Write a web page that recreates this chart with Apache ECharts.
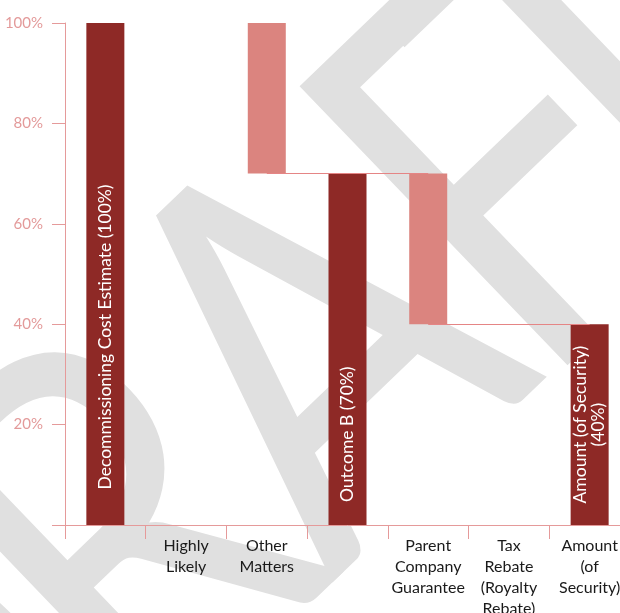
<!DOCTYPE html>
<html>
<head>
<meta charset="utf-8">
<script src="https://cdn.jsdelivr.net/npm/echarts@6/dist/echarts.min.js"></script>
<style>
  html, body { margin: 0; padding: 0; background: #fff; overflow: hidden; }
  #chart { width: 630px; height: 613px; }
</style>
</head>
<body>
<div id="chart"></div>
<script type="text/javascript">
// category tick labels (blank where the bar carries its own label)
var categories = ['', 'Highly\nLikely', 'Other\nMatters', '', 'Parent\nCompany\nGuarantee', 'Tax\nRebate\n(Royalty\nRebate)', 'Amount\n(of\nSecurity)'];
// invisible base of each waterfall step
var baseValues = [0, 0, 70, 0, 40, 0, 0];
// visible height of each bar
var barValues = [100, 0, 30, 70, 30, 0, 40];
// 'total' = dark bar, 'step' = light bar
var barKinds = ['total', '', 'step', 'total', 'step', '', 'total'];
var barLabels = ['Decommissioning Cost Estimate (100%)', '', '', 'Outcome B (70%)', '', '', 'Amount (of Security)\n(40%)'];
var labelShift = [63, 0, 0, 85, 0, 0, 0];
var yTicks = [0, 20, 40, 60, 80, 100];

var darkRed = '#8e2926';
var lightRed = '#db847f';
var axisPink = '#e59a9a';
var font = 'Lato, "Open Sans", sans-serif';

// big grey "DRAFT" watermark, one letter at a time
var wmLetters = [['D', -77, 734], ['R', 125, 540], ['A', 319, 354], ['F', 508, 181], ['T', 611, 83]];
var watermark = wmLetters.map(function (l) {
    return {
        type: 'text',
        x: l[1], y: l[2],
        rotation: 0.765,
        scaleX: 0.82,
        z: -10,
        silent: true,
        style: {
            text: l[0],
            fontSize: 540,
            fontFamily: font,
            fill: '#e0e0e0',
            align: 'center',
            verticalAlign: 'middle'
        }
    };
});

var chart = echarts.init(document.getElementById('chart'));

var visibleData = barValues.map(function (v, i) {
    return {
        value: v,
        itemStyle: { color: barKinds[i] == 'total' ? darkRed : lightRed },
        // label is rotated 90deg, so a shift down the page is a negative x offset
        label: { show: barLabels[i] != '', formatter: barLabels[i], offset: [-labelShift[i], 0] }
    };
});

var option = {
    animation: false,
    graphic: watermark,
    grid: { left: 65, right: 0, top: 23, bottom: 88, outerBoundsMode: 'none' },
    xAxis: {
        type: 'category',
        data: categories,
        axisLine: { lineStyle: { color: axisPink, width: 1 } },
        axisTick: { show: true, length: 14, lineStyle: { color: axisPink } },
        axisLabel: { color: '#1a1a1a', fontSize: 16, lineHeight: 21, margin: 10, fontFamily: font, interval: 0 }
    },
    yAxis: {
        type: 'value',
        min: yTicks[0],
        max: yTicks[yTicks.length - 1],
        interval: 20,
        axisLine: { show: true, lineStyle: { color: axisPink, width: 1 } },
        axisTick: { show: true, length: 13, lineStyle: { color: axisPink } },
        axisLabel: {
            color: '#e39a9a', fontSize: 15, margin: 22, fontFamily: font,
            formatter: function (v) { return v == 0 ? '' : v + '%'; }
        },
        splitLine: { show: false }
    },
    series: [
        {
            name: 'base',
            type: 'bar',
            stack: 'wf',
            barWidth: 38,
            itemStyle: { color: 'transparent' },
            data: baseValues
        },
        {
            name: 'value',
            type: 'bar',
            stack: 'wf',
            barWidth: 38,
            label: {
                color: '#fff',
                fontSize: 17.5,
                fontFamily: font,
                rotate: 90,
                position: 'inside',
                align: 'center',
                verticalAlign: 'middle',
                lineHeight: 18
            },
            data: visibleData,
            markLine: {
                silent: true,
                symbol: 'none',
                label: { show: false },
                lineStyle: { color: '#e58585', type: 'solid', width: 1, opacity: 1 },
                data: [
                    [{ coord: [2, baseValues[2]] }, { coord: [4, baseValues[4] + barValues[4]] }],
                    [{ coord: [4, baseValues[4]] }, { coord: [6, barValues[6]] }]
                ]
            }
        }
    ]
};

chart.setOption(option);
</script>
</body>
</html>
